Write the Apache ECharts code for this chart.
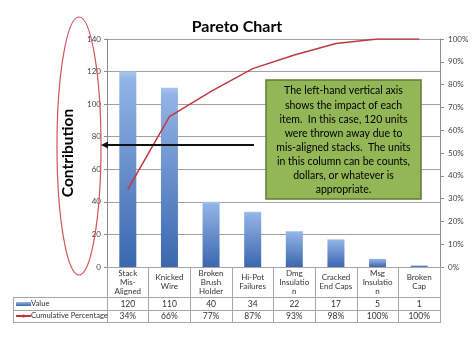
<!DOCTYPE html>
<html><head><meta charset="utf-8">
<script src="https://cdn.jsdelivr.net/npm/echarts@6/dist/echarts.min.js"></script>
<style>html,body{margin:0;padding:0;background:#fff}#c{width:474px;height:355px}</style>
</head><body><div id="c"></div>
<script>
const categories = ["Stack\nMis-\nAligned","Knicked\nWire","Broken\nBrush\nHolder","Hi-Pot\nFailures","Dmg\nInsulatio\nn","Cracked\nEnd Caps","Msg\nInsulatio\nn","Broken\nCap"];
const values = [120,110,40,34,22,17,5,1];
const cumPct = [34,66,77,87,93,98,100,100];
const leftTicks = {min:0,max:140,interval:20};
const rightTicks = {min:0,max:100,interval:10};
const noteLines = ["The left-hand vertical axis","shows the impact of each","item.  In this case, 120 units","were thrown away due to","mis-aligned stacks.  The units","in this column can be counts,","dollars, or whatever is","appropriate."];

const FONT = 'Lato';
const chart = echarts.init(document.getElementById('c'), null, {renderer:'canvas'});
const gridL=107, gridR=34, gridT=39, gridB=88;
const tableColor = '#a6a6a6';
const baseXAxis = {type:'category', data:categories, gridIndex:0, position:'bottom', boundaryGap:true};
chart.setOption({
  animation:false,
  title:{text:'Pareto Chart', left:'center', top:14, textStyle:{fontFamily:FONT,fontWeight:'bold',fontSize:16,color:'#000'}},
  legend:{orient:'vertical', left:15, top:299, padding:0, itemWidth:15, itemHeight:4, itemGap:2,
    textStyle:{fontFamily:FONT,fontSize:7.6,color:'#333',padding:[0,0,0,-5],lineHeight:10},
    data:[{name:'Value',icon:'rect'},{name:'Cumulative Percentage'}]},
  grid:{left:gridL,right:gridR,top:gridT,bottom:gridB},
  xAxis:[
    Object.assign({}, baseXAxis, {
      axisLine:{show:true,lineStyle:{color:tableColor}},
      axisTick:{show:true,length:55,lineStyle:{color:tableColor}},
      axisLabel:{interval:0,margin:15,verticalAlign:'middle',lineHeight:9,fontFamily:FONT,fontSize:8,color:'#333'}
    }),
    Object.assign({}, baseXAxis, {
      axisLine:{show:false},axisTick:{show:false},
      axisLabel:{interval:0,margin:37,verticalAlign:'middle',fontFamily:FONT,fontSize:8.5,color:'#333',
        formatter:(v,i)=>String(values[i])}
    }),
    Object.assign({}, baseXAxis, {
      axisLine:{show:false},axisTick:{show:false},
      axisLabel:{interval:0,margin:49,verticalAlign:'middle',fontFamily:FONT,fontSize:8.5,color:'#333',
        formatter:(v,i)=>cumPct[i]+'%'}
    })
  ],
  yAxis:[
    {type:'value',min:leftTicks.min,max:leftTicks.max,interval:leftTicks.interval,
      name:'Contribution',nameLocation:'middle',nameRotate:90,nameGap:21,
      nameTextStyle:{fontFamily:FONT,fontWeight:'bold',fontSize:15.5,color:'#000'},
      axisLine:{show:true,lineStyle:{color:'#8c8c8c'}},axisTick:{show:true,length:3,lineStyle:{color:'#8c8c8c'}},
      axisLabel:{margin:6,fontFamily:FONT,fontSize:8,color:'#444'},
      splitLine:{show:true,lineStyle:{color:'#a0a0a0',width:1}}},
    {type:'value',min:rightTicks.min,max:rightTicks.max,interval:rightTicks.interval,position:'right',
      axisLine:{show:true,lineStyle:{color:'#8c8c8c'}},axisTick:{show:true,length:4,lineStyle:{color:'#8c8c8c'}},
      axisLabel:{margin:8,fontFamily:FONT,fontSize:8,color:'#444',formatter:'{value}%'},
      splitLine:{show:false}}
  ],
  series:[
    {name:'Value',type:'bar',xAxisIndex:0,yAxisIndex:0,data:values,barWidth:17,
      itemStyle:{color:new echarts.graphic.LinearGradient(0,0,0,1,[{offset:0,color:'#A9C4EE'},{offset:0.04,color:'#93B3E6'},{offset:1,color:'#3A67AF'}])}},
    {name:'Cumulative Percentage',type:'line',xAxisIndex:0,yAxisIndex:1,data:cumPct,symbol:'none',
      lineStyle:{color:'#C0373F',width:1.5},itemStyle:{color:'#C0373F'}}
  ],
  graphic:[
    {type:'line',shape:{x1:13,y1:297.5,x2:441,y2:297.5},style:{stroke:tableColor,lineWidth:1},z:10},
    {type:'line',shape:{x1:13,y1:310.5,x2:441,y2:310.5},style:{stroke:tableColor,lineWidth:1},z:10},
    {type:'line',shape:{x1:13,y1:322.5,x2:441,y2:322.5},style:{stroke:tableColor,lineWidth:1},z:10},
    {type:'line',shape:{x1:13.5,y1:297.5,x2:13.5,y2:322.5},style:{stroke:tableColor,lineWidth:1},z:10},
    {type:'ellipse',shape:{cx:79,cy:146,rx:22,ry:129},style:{fill:null,stroke:'#D0555E',lineWidth:1.2},z:10},
    {type:'line',shape:{x1:254,y1:145,x2:106,y2:145},style:{stroke:'#111',lineWidth:2},z:20},
    {type:'polygon',shape:{points:[[101,145],[108,141.5],[108,148.5]]},style:{fill:'#111'},z:20},
    {type:'rect',shape:{x:266,y:80,width:155,height:119},style:{fill:'#93B656',stroke:'#5E7B30',lineWidth:1.5},z:30},
    {type:'text',x:343.5,y:91,z:31,style:{text:noteLines.join('\n'),align:'center',verticalAlign:'top',
      fontFamily:FONT,fontSize:10.5,lineHeight:14.1,fill:'#000',y:-7}}
  ]
});
</script></body></html>
